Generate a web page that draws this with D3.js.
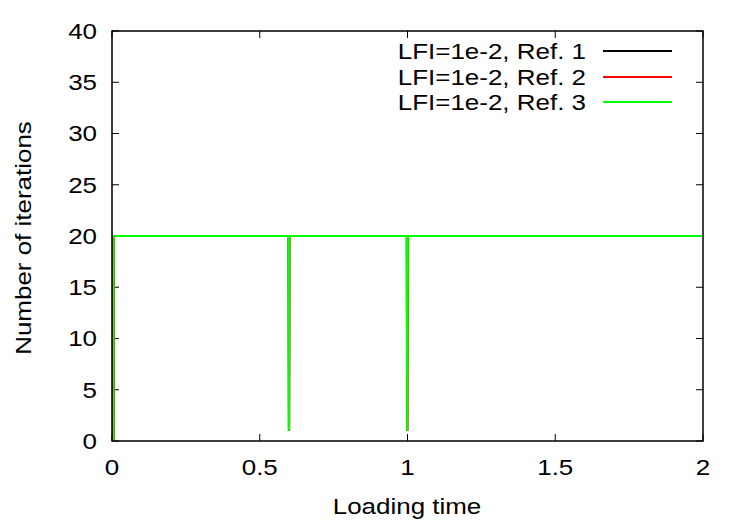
<!DOCTYPE html>
<html><head><meta charset="utf-8">
<script src="https://cdn.jsdelivr.net/npm/d3@7"></script>
<style>body{margin:0;background:#fff}text{font-family:"Liberation Sans",Arial,sans-serif;fill:#000}</style>
</head><body>
<svg id="c" width="750" height="525"></svg>
<script>
const xTicks = [0, 0.5, 1, 1.5, 2];
const yTicks = [0, 5, 10, 15, 20, 25, 30, 35, 40];
const seriesNames = ["LFI=1e-2, Ref. 1", "LFI=1e-2, Ref. 2", "LFI=1e-2, Ref. 3"];
const seriesColors = ["#000000", "#ff0000", "#00ff00"];
const timeRef1 = [0.005, 0.0055, 0.598, 0.599, 0.600, 0.998, 0.999, 1.000, 2.0];
const itersRef1 = [0, 20, 20, 1, 20, 20, 1, 20, 20];
const timeRef2 = [0.005, 0.0055, 0.598, 0.599, 0.600, 0.998, 0.999, 1.000, 2.0];
const itersRef2 = [0, 20, 20, 1, 20, 20, 1, 20, 20];
const timeRef3 = [0.005, 0.0055, 0.598, 0.599, 0.600, 0.998, 0.999, 1.0003, 1.0006, 2.0];
const itersRef3 = [0, 20, 20, 1, 20, 20, 1, 15, 20, 20];

const series = [
  {name: seriesNames[0], color: seriesColors[0], x: timeRef1, y: itersRef1},
  {name: seriesNames[1], color: seriesColors[1], x: timeRef2, y: itersRef2},
  {name: seriesNames[2], color: seriesColors[2], x: timeRef3, y: itersRef3}
];

const L = 112, R = 703, T = 31, B = 441;
const FS = 22, SX = 1.18;
const svg = d3.select("#c");
const x = d3.scaleLinear().domain([0, 2]).range([L, R]);
const y = d3.scaleLinear().domain([0, 40]).range([B, T]);

function label(px, py, txt, anchor, rot) {
  svg.append("text")
    .attr("transform", `translate(${px},${py})` + (rot ? ` rotate(${rot})` : "") + ` scale(${SX},1)`)
    .attr("text-anchor", anchor).attr("dominant-baseline", "central")
    .attr("font-size", FS).text(txt);
}

xTicks.forEach(t => {
  svg.append("line").attr("x1", x(t)).attr("x2", x(t)).attr("y1", B).attr("y2", B - 7).attr("stroke", "#000");
  svg.append("line").attr("x1", x(t)).attr("x2", x(t)).attr("y1", T).attr("y2", T + 7).attr("stroke", "#000");
  label(x(t), 467, t, "middle");
});
yTicks.forEach(t => {
  svg.append("line").attr("x1", L).attr("x2", L + 7).attr("y1", y(t)).attr("y2", y(t)).attr("stroke", "#000");
  svg.append("line").attr("x1", R).attr("x2", R - 7).attr("y1", y(t)).attr("y2", y(t)).attr("stroke", "#000");
  label(97, y(t), t, "end");
});

const line = d3.line().x(d => x(d[0])).y(d => y(d[1]));
series.forEach(s => {
  const pts = s.x.map((v, i) => [v, s.y[i]]);
  svg.append("path").attr("d", line(pts)).attr("fill", "none")
    .attr("stroke", s.color).attr("stroke-width", 2.2);
});

svg.append("rect").attr("x", L).attr("y", T).attr("width", R - L).attr("height", B - T)
  .attr("fill", "none").attr("stroke", "#000").attr("stroke-width", 1.5);

const legY = [51, 77, 102];
series.forEach((s, i) => {
  label(586, legY[i], s.name, "end");
  svg.append("line").attr("x1", 603).attr("x2", 672).attr("y1", legY[i]).attr("y2", legY[i])
    .attr("stroke", s.color).attr("stroke-width", 2.2);
});

label(407, 506, "Loading time", "middle");
label(23, 238, "Number of iterations", "middle", -90);
</script>
</body></html>
